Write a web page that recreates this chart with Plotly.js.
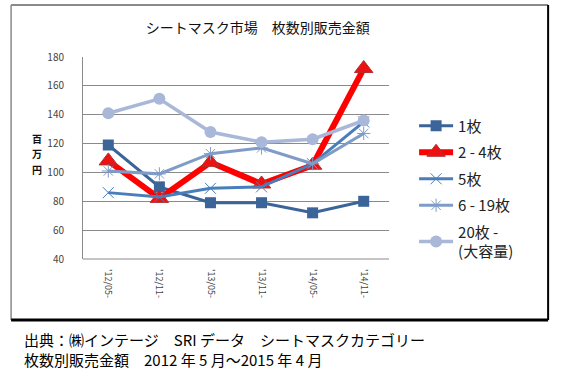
<!DOCTYPE html>
<html><head><meta charset="utf-8">
<script src="https://cdn.plot.ly/plotly-3.0.1.min.js"></script>
<style>html,body{margin:0;padding:0;background:#fff;}#chart{width:564px;height:381px;}</style>
</head><body><div id="chart"></div>
<script>
const categories = ["'12/05-", "'12/11-", "'13/05-", "'13/11-", "'14/05-", "'14/11-"];
const series1 = [119, 90, 79, 79, 72, 80];
const series2to4 = [108, 82, 107, 92, 105, 172];
const series5 = [86, 83, 89, 90, 106, 135];
const series6to19 = [101, 99, 113, 117, 106, 127];
const series20 = [141, 151, 128, 121, 123, 136];
const seriesNames = ["1枚", "2 - 4枚", "5枚", "6 - 19枚", "20枚 -<br>(大容量)"];
const yTicks = [40, 60, 80, 100, 120, 140, 160, 180];
const yTitleChars = ["百", "万", "円"];

const F = '"Noto Sans CJK JP", "DejaVu Sans", sans-serif';
const traces = [
  {y: series1, name: seriesNames[0], line: {color: '#3b6498', width: 3}, marker: {symbol: 'square', size: 11, color: '#3b6498'}},
  {y: series2to4, name: seriesNames[1], line: {color: '#ff0000', width: 6}, marker: {symbol: 'triangle-up', size: 16, color: '#ee1111', line: {color: '#b03030', width: 1}}},
  {y: series5, name: seriesNames[2], line: {color: '#4a7ebb', width: 3}, marker: {symbol: 'x-thin-open', size: 11, color: '#4a7ebb', line: {color: '#4a7ebb', width: 1}}},
  {y: series6to19, name: seriesNames[3], line: {color: '#7f9cc8', width: 3}, marker: {symbol: 'asterisk-open', size: 11, color: '#7f9cc8', line: {color: '#7f9cc8', width: 1}}},
  {y: series20, name: seriesNames[4], line: {color: '#a9b8d8', width: 3.5}, marker: {symbol: 'circle', size: 12, color: '#a9b8d8'}}
].map((t, i) => Object.assign({type: 'scatter', mode: 'lines+markers', x: categories, legendgroup: 'g' + i}, t));

const yTitleY = [0.595, 0.520, 0.445];
const annotations = yTitleChars.map((c, i) => ({xref: 'paper', yref: 'paper', x: -0.150, y: yTitleY[i], xanchor: 'center', yanchor: 'middle', showarrow: false, borderpad: 0, text: '<b>' + c + '</b>', font: {family: F, size: 10, color: '#111'}}));
annotations.push({xref: 'paper', yref: 'paper', x: -0.2, y: -0.335, xanchor: 'left', yanchor: 'top', showarrow: false, align: 'left',
  text: '出典：㈱インテージ　SRI データ　シートマスクカテゴリー<br>枚数別販売金額　2012 年 5 月～2015 年 4 月', font: {family: F, size: 15, color: '#000'}});

const layout = {
  width: 564, height: 381,
  margin: {l: 83, r: 175, t: 57, b: 122},
  paper_bgcolor: '#ffffff', plot_bgcolor: '#ffffff',
  font: {family: F, color: '#333'},
  showlegend: true,
  title: {text: 'シートマスク市場　枚数別販売金額', font: {family: F, size: 14, color: '#111'}, x: 0.457, xanchor: 'center', y: 0.925, yanchor: 'middle'},
  xaxis: {type: 'category', tickangle: 90, tickfont: {size: 9, color: '#444'}, showgrid: false, showline: false, ticks: '', zeroline: false, ticklabelstandoff: 9},
  yaxis: {range: [40, 180], tickvals: yTicks, tickfont: {size: 10, color: '#444'}, showgrid: true, gridcolor: '#8a8a8a', gridwidth: 1, showline: true, linecolor: '#8a8a8a', linewidth: 1, ticks: '', zeroline: false, ticklabelstandoff: 16},
  legend: {x: 1.082, y: 0.74, xanchor: 'left', yanchor: 'top', font: {family: F, size: 15, color: '#222'}, traceorder: 'grouped', tracegroupgap: 4, itemwidth: 34, bgcolor: 'rgba(0,0,0,0)'},
  shapes: [
    {type: 'line', xref: 'paper', yref: 'paper', x0: -0.235, x1: 1.52, y0: 1.257, y1: 1.257, line: {color: '#8a8a8a', width: 2}},
    {type: 'line', xref: 'paper', yref: 'paper', x0: -0.235, x1: -0.235, y0: 1.257, y1: -0.302, line: {color: '#8a8a8a', width: 1.5}},
    {type: 'line', xref: 'paper', yref: 'paper', x0: -0.235, x1: 1.52, y0: -0.302, y1: -0.302, line: {color: '#000', width: 3}},
    {type: 'line', xref: 'paper', yref: 'paper', x0: 1.52, x1: 1.52, y0: 1.257, y1: -0.302, line: {color: '#000', width: 2}},
    {type: 'line', xref: 'paper', yref: 'paper', x0: 0, x1: 1, y0: 0, y1: 0, line: {color: '#8a8a8a', width: 1}}
  ],
  annotations: annotations
};
Plotly.newPlot('chart', traces, layout, {displayModeBar: false, staticPlot: true});
</script></body></html>
